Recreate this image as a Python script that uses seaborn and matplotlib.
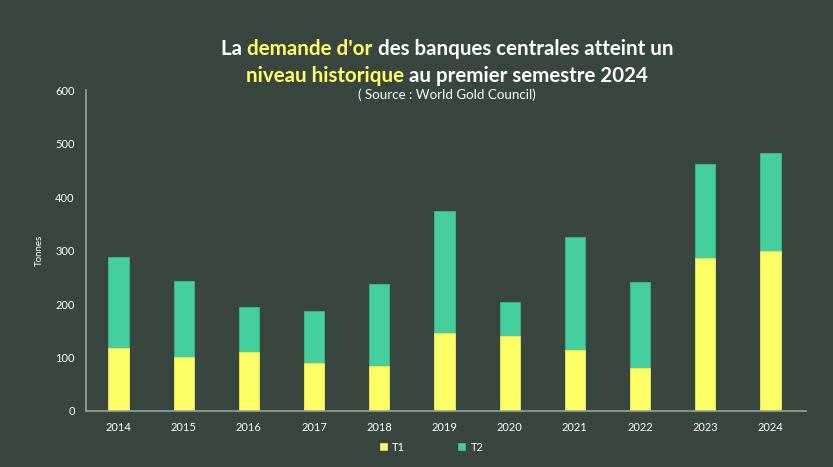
import pandas as pd
import seaborn as sns
import matplotlib.pyplot as plt

years = ['2014', '2015', '2016', '2017', '2018', '2019', '2020', '2021', '2022', '2023', '2024']
t1 = [118, 101, 110, 90, 84, 146, 140, 114, 80, 286, 300]
t2 = [170, 142, 84, 97, 153, 228, 64, 211, 161, 175, 183]

bg = '#39463f'
yellow = '#ffff66'
green = '#45cf9f'

df = pd.DataFrame({'year': years, 'T1': t1, 'T2': t2})
df['total'] = df['T1'] + df['T2']

sns.set_theme(style='white')
plt.rcParams['font.family'] = ['Lato', 'DejaVu Sans']

fig = plt.figure(figsize=(8.33, 4.67), dpi=100, facecolor=bg)
ax = fig.add_axes([0.103, 0.12, 0.865, 0.687], facecolor=bg)

sns.barplot(data=df, x='year', y='total', color=green, width=0.31, saturation=1,
            edgecolor='#3fb88c', linewidth=0.6, ax=ax, label='T2')
sns.barplot(data=df, x='year', y='T1', color=yellow, width=0.31, saturation=1,
            edgecolor='#e6e65c', linewidth=0.6, ax=ax, label='T1')

ax.set_xlim(-0.5, 10.55)
ax.set_ylim(0, 600)
ax.set_yticks(range(0, 601, 100))
ax.set_xlabel('')
ax.set_ylabel('Tonnes', color='white', fontsize=7, labelpad=8)
ax.tick_params(colors='white', labelsize=8, length=0, pad=8)
for s in ['top', 'right']:
    ax.spines[s].set_visible(False)
for s in ['left', 'bottom']:
    ax.spines[s].set_color('#9aa39e')
    ax.spines[s].set_linewidth(1.2)

handles, labels = ax.get_legend_handles_labels()
order = [labels.index('T1'), labels.index('T2')]
leg = ax.legend([handles[i] for i in order], [labels[i] for i in order],
                loc='upper center', bbox_to_anchor=(0.48, -0.065), ncol=2, frameon=False,
                fontsize=8, handlelength=0.6, handleheight=0.6, handletextpad=0.5,
                columnspacing=4.8)
for t in leg.get_texts():
    t.set_color('white')

# colored title, built piece by piece
renderer = fig.canvas.get_renderer()
title_lines = [
    (0.895, [('La ', 'white'), ("demande d'or", yellow), (' des banques centrales atteint un', 'white')]),
    (0.838, [('niveau historique', yellow), (' au premier semestre 2024', 'white')]),
]
for y, parts in title_lines:
    texts = []
    for s, c in parts:
        texts.append(fig.text(0, y, s, color=c, fontsize=14.8, fontweight='bold', ha='left', va='center'))
    widths = [t.get_window_extent(renderer).width / fig.bbox.width for t in texts]
    x = 0.537 - sum(widths) / 2
    for t, w in zip(texts, widths):
        t.set_x(x)
        x += w
fig.text(0.536, 0.797, '( Source : World Gold Council)', color='white', fontsize=9.6, ha='center', va='center')

fig.savefig('out.png', dpi=100, facecolor=bg)
